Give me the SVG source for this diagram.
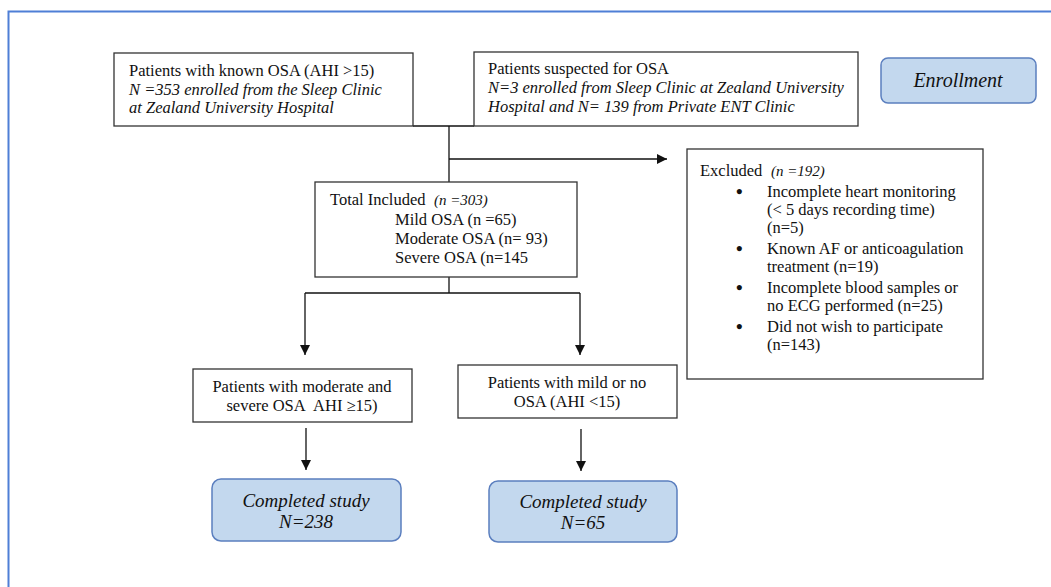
<svg xmlns="http://www.w3.org/2000/svg" width="1051" height="587" viewBox="0 0 1051 587">
<style>
.box{fill:#fff;stroke:#333;stroke-width:1.3}
.blue{fill:#c3d8ee;stroke:#5b7fbf;stroke-width:1.5}
.t{font-family:"Liberation Serif","Times New Roman",serif;font-size:16.5px;fill:#111}
.i{font-style:italic}
.big{font-size:19px}
.b{font-size:19px;font-weight:bold}
.ln{fill:none;stroke:#111;stroke-width:1.3}
</style>
<defs>
<marker id="ah" viewBox="0 0 10 10" refX="10" refY="5" markerWidth="10" markerHeight="10" markerUnits="userSpaceOnUse" orient="auto">
<path d="M0,0 L10,5 L0,10 Z" fill="#111"/>
</marker>
</defs>
<rect width="1051" height="587" fill="#fff"/>
<rect x="8.5" y="11.5" width="1100" height="640" fill="none" stroke="#4f7fd6" stroke-width="2"/>

<g id="connectors">
<path class="ln" d="M413,126 H474"/>
<path class="ln" d="M449,126 V182"/>
<path class="ln" d="M449,159 H667" marker-end="url(#ah)"/>
<path class="ln" d="M449,277 V293"/>
<path class="ln" d="M305,293 H580"/>
<path class="ln" d="M305,293 V355" marker-end="url(#ah)"/>
<path class="ln" d="M580,293 V355" marker-end="url(#ah)"/>
<path class="ln" d="M306,428 V470" marker-end="url(#ah)"/>
<path class="ln" d="M581,429 V471" marker-end="url(#ah)"/>
</g>

<g id="known">
<rect class="box" x="114" y="53" width="299" height="73"/>
<text class="t" x="129" y="76">Patients with known OSA (AHI &gt;15)</text>
<text class="t i" x="129" y="95">N =353 enrolled from the Sleep Clinic</text>
<text class="t i" x="129" y="113">at Zealand University Hospital</text>
</g>

<g id="suspected">
<rect class="box" x="474" y="52" width="384" height="74"/>
<text class="t" x="488" y="74">Patients suspected for OSA</text>
<text class="t i" x="488" y="93">N=3 enrolled from Sleep Clinic at Zealand University</text>
<text class="t i" x="488" y="112">Hospital and N= 139 from Private ENT Clinic</text>
</g>

<g id="enrollment">
<rect class="blue" x="881" y="58" width="155" height="45" rx="7"/>
<text class="t i" x="958" y="87" text-anchor="middle" style="font-size:20px">Enrollment</text>
</g>

<g id="excluded">
<rect class="box" x="687" y="149" width="296" height="230"/>
<text class="t" x="700" y="176">Excluded <tspan class="i" style="font-size:15px" x="771">(n =192)</tspan></text>
<text class="t b" x="736" y="198">•</text>
<text class="t" x="767" y="197">Incomplete heart monitoring</text>
<text class="t" x="767" y="215">(&lt; 5 days recording time)</text>
<text class="t" x="767" y="233">(n=5)</text>
<text class="t b" x="736" y="255">•</text>
<text class="t" x="767" y="254">Known AF or anticoagulation</text>
<text class="t" x="767" y="272">treatment (n=19)</text>
<text class="t b" x="736" y="294">•</text>
<text class="t" x="767" y="293">Incomplete blood samples or</text>
<text class="t" x="767" y="311">no ECG performed (n=25)</text>
<text class="t b" x="736" y="333">•</text>
<text class="t" x="767" y="332">Did not wish to participate</text>
<text class="t" x="767" y="350">(n=143)</text>
</g>

<g id="total">
<rect class="box" x="315" y="182" width="262" height="95"/>
<text class="t" x="330" y="205">Total Included <tspan class="i" style="font-size:15px" x="434">(n =303)</tspan></text>
<text class="t" x="395" y="225">Mild OSA (n =65)</text>
<text class="t" x="395" y="244">Moderate OSA (n= 93)</text>
<text class="t" x="395" y="263">Severe OSA (n=145</text>
</g>

<g id="moderate">
<rect class="box" x="193" y="369" width="219" height="53"/>
<text class="t" x="302" y="392" text-anchor="middle">Patients with moderate and</text>
<text class="t" x="302" y="411" text-anchor="middle">severe OSA&#160; AHI ≥15)</text>
</g>

<g id="mild">
<rect class="box" x="458" y="365" width="219" height="53"/>
<text class="t" x="567" y="388" text-anchor="middle">Patients with mild or no</text>
<text class="t" x="567" y="407" text-anchor="middle">OSA (AHI &lt;15)</text>
</g>

<g id="done238">
<rect class="blue" x="212" y="479" width="189" height="62" rx="9"/>
<text class="t i big" x="306" y="507" text-anchor="middle">Completed study</text>
<text class="t i big" x="306" y="528" text-anchor="middle">N=238</text>
</g>

<g id="done65">
<rect class="blue" x="489" y="481" width="188" height="61" rx="9"/>
<text class="t i big" x="583" y="508" text-anchor="middle">Completed study</text>
<text class="t i big" x="583" y="529" text-anchor="middle">N=65</text>
</g>
</svg>
